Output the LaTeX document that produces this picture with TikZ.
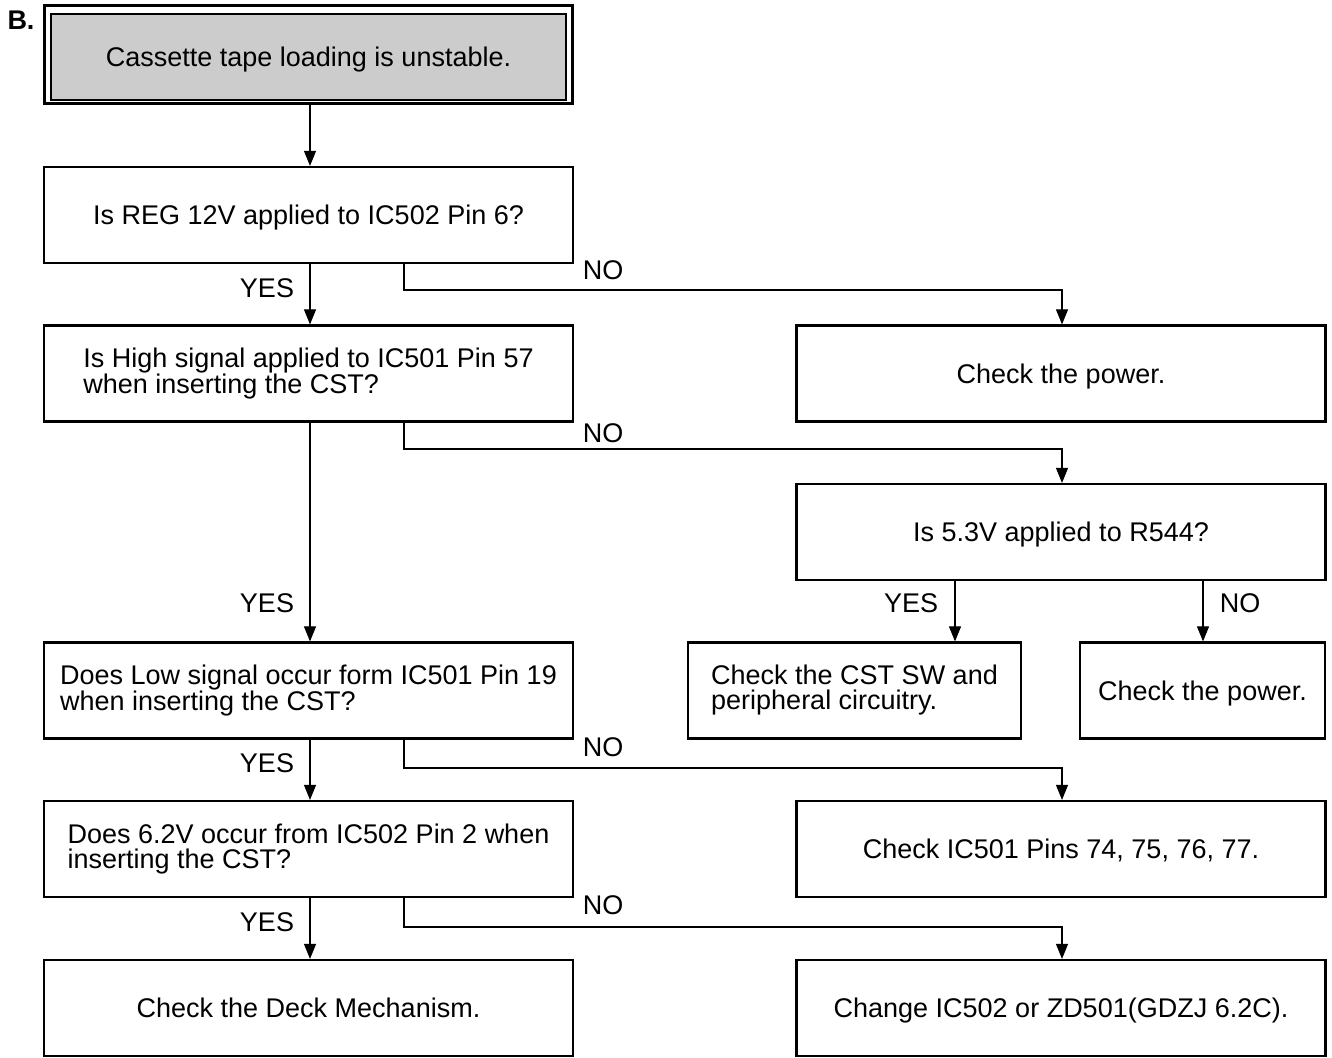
\documentclass[tikz,border=0pt]{standalone}
\usepackage{fontspec}
\setmainfont{Liberation Sans}
\usetikzlibrary{arrows.meta}
\begin{document}
\begin{tikzpicture}[x=1pt,y=-1pt,
  font=\fontsize{27}{25}\selectfont,
  mbox/.style={draw, line width=2.2pt, minimum width=529pt, minimum height=96pt, inner sep=0pt, align=left},
  box/.style={mbox, text height=19pt, text depth=0pt},
  link/.style={line width=1.1pt, -{Triangle[length=15pt,width=12pt]}},
  lbl/.style={inner sep=0pt, text height=19pt, text depth=0pt}]
\useasboundingbox (0,0) rectangle (1332,1057);

% title box with double frame
\node[draw, line width=3pt, minimum width=528pt, minimum height=97pt, inner sep=0pt] (top) at (308,54.5) {};
\node[draw, line width=2pt, fill={rgb,255:red,204;green,204;blue,204}, minimum width=515pt, minimum height=86pt, inner sep=0pt, text height=19pt, text depth=0pt] (topin) at (308.5,57) {Cassette tape loading is unstable.};
\node[lbl, font=\fontsize{27}{26}\selectfont\bfseries] (tag) at (21,20) {B.};

% left column
\node[box] (q1) at (308.5,215) {Is REG 12V applied to IC502 Pin 6?};
\node[mbox] (q2) at (308.5,373.5) {Is High signal applied to IC501 Pin 57\\when inserting the CST?};
\node[mbox] (q3) at (308.5,690.5) {Does Low signal occur form IC501 Pin 19\\when inserting the CST?};
\node[mbox] (q4) at (308.5,849) {Does 6.2V occur from IC502 Pin 2 when\\inserting the CST?};
\node[box] (e1) at (308.5,1008) {Check the Deck Mechanism.};

% right column
\node[box] (p1) at (1061,373.5) {Check the power.};
\node[box] (q5) at (1061,532) {Is 5.3V applied to R544?};
\node[mbox, minimum width=333pt] (c1) at (854.5,690.5) {Check the CST SW and\\peripheral circuitry.};
\node[box, minimum width=245pt] (p2) at (1202.5,690.5) {Check the power.};
\node[box] (c2) at (1061,849) {Check IC501 Pins 74, 75, 76, 77.};
\node[box] (c3) at (1061,1008) {Change IC502 or ZD501(GDZJ 6.2C).};

% YES path
\draw[link] (top.south -| 310,0) -- (q1.north -| 310,0);
\draw[link] (q1.south -| 310,0) -- (q2.north -| 310,0);
\draw[link] (q2.south -| 310,0) -- (q3.north -| 310,0);
\draw[link] (q3.south -| 310,0) -- (q4.north -| 310,0);
\draw[link] (q4.south -| 310,0) -- (e1.north -| 310,0);

% NO branches
\draw[link] (q1.south -| 404,0) |- (1062,290) -- (p1.north -| 1062,0);
\draw[link] (q2.south -| 404,0) |- (1062,449) -- (q5.north -| 1062,0);
\draw[link] (q3.south -| 404,0) |- (1062,768) -- (c2.north -| 1062,0);
\draw[link] (q4.south -| 404,0) |- (1062,927) -- (c3.north -| 1062,0);

% R544 branches
\draw[link] (q5.south -| 955,0) -- (c1.north -| 955,0);
\draw[link] (q5.south -| 1203,0) -- (p2.north -| 1203,0);

% labels
\node[lbl] (y1) at (267,288) {YES};
\node[lbl] (y2) at (267,603) {YES};
\node[lbl] (y3) at (267,763) {YES};
\node[lbl] (y4) at (267,922) {YES};
\node[lbl] (n1) at (603,270) {NO};
\node[lbl] (n2) at (603,433) {NO};
\node[lbl] (n3) at (603,747) {NO};
\node[lbl] (n4) at (603,905) {NO};
\node[lbl] (y5) at (911,603) {YES};
\node[lbl] (n5) at (1240,603) {NO};
\end{tikzpicture}
\end{document}
